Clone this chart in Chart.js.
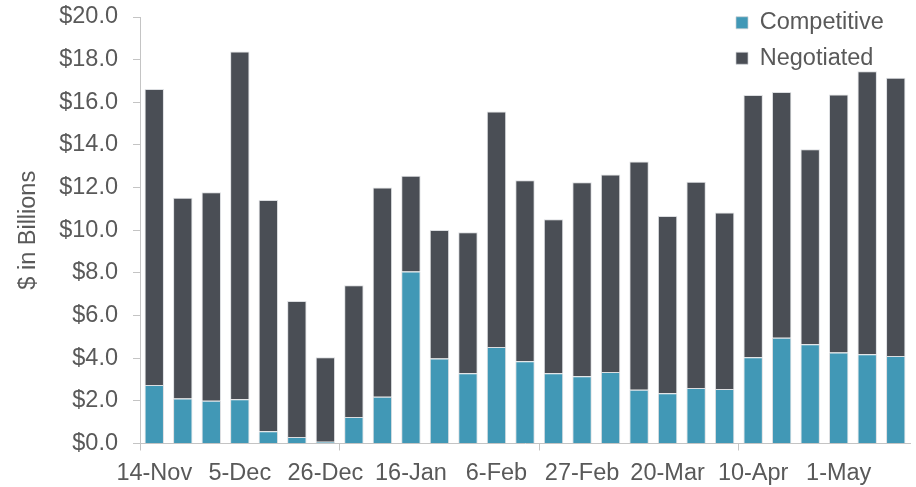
<!DOCTYPE html>
<html>
<head>
<meta charset="utf-8">
<script src="https://cdn.jsdelivr.net/npm/chart.js@4.4.0/dist/chart.umd.min.js"></script>
<style>
    html, body { margin: 0; padding: 0; background: #fff; }
    #wrap { width: 916px; height: 487px; }
</style>
</head>
<body>
<div id="wrap"><canvas id="graphic"></canvas></div>
<script>
// weekly volume, $ billions
const weeks = [
    '14-Nov', '21-Nov', '28-Nov', '5-Dec', '12-Dec', '19-Dec', '26-Dec', '2-Jan', '9-Jan',
    '16-Jan', '23-Jan', '30-Jan', '6-Feb', '13-Feb', '20-Feb', '27-Feb', '6-Mar', '13-Mar',
    '20-Mar', '27-Mar', '3-Apr', '10-Apr', '17-Apr', '24-Apr', '1-May', '8-May', '15-May'
];
const competitive = [
    2.74, 2.11, 2.00, 2.08, 0.58, 0.30, 0.08, 1.24, 2.19,
    8.06, 3.99, 3.29, 4.52, 3.86, 3.29, 3.15, 3.35, 2.52,
    2.36, 2.60, 2.56, 4.05, 4.96, 4.66, 4.27, 4.18, 4.10
];
const negotiated = [
    13.88, 9.41, 9.78, 16.30, 10.84, 6.38, 3.96, 6.18, 9.81,
    4.50, 6.02, 6.62, 11.05, 8.49, 7.23, 9.10, 9.26, 10.70,
    8.31, 9.68, 8.27, 12.29, 11.52, 9.14, 12.10, 13.28, 13.05
];
const yTicks = [0, 2, 4, 6, 8, 10, 12, 14, 16, 18, 20];

const textColor = '#595959';
const axisColor = '#c4c4c4';
Chart.defaults.font.family = '"Liberation Sans", Arial, sans-serif';
Chart.defaults.font.size = 23.5;
Chart.defaults.color = textColor;

// legend sits in the top right corner, over the plot
const legendCorner = {
    id: 'legendCorner',
    afterLayout(chart) {
        const lg = chart.legend;
        const w = lg.width;
        const h = lg.height;
        lg.left = 724;
        lg.right = lg.left + w;
        lg.top = -1;
        lg.bottom = lg.top + h;
    }
};

new Chart(document.getElementById('graphic'), {
    type: 'bar',
    data: {
        labels: weeks,
        datasets: [
            {
                label: 'Competitive',
                data: competitive,
                backgroundColor: '#4198b6',
                borderColor: 'rgba(205,208,212,0.7)',
                borderWidth: 1,
                barPercentage: 0.68,
                categoryPercentage: 1
            },
            {
                label: 'Negotiated',
                data: negotiated,
                backgroundColor: '#4a4e55',
                borderColor: 'rgba(205,208,212,0.7)',
                borderWidth: 1,
                barPercentage: 0.68,
                categoryPercentage: 1
            }
        ]
    },
    options: {
        responsive: true,
        maintainAspectRatio: false,
        animation: false,
        layout: { padding: { top: 17, right: 6, left: 0, bottom: 0 } },
        plugins: {
            tooltip: { enabled: false },
            legend: {
                position: 'chartArea',
                align: 'start',
                labels: {
                    boxWidth: 12,
                    boxHeight: 12,
                    padding: 12,
                    color: textColor,
                    font: { size: 23.5 }
                }
            }
        },
        scales: {
            x: {
                stacked: true,
                grid: {
                    drawOnChartArea: false,
                    tickLength: 7,
                    color: (ctx) => (ctx.index % 7 === 0 ? axisColor : 'transparent')
                },
                border: { color: axisColor, width: 1 },
                ticks: {
                    autoSkip: false,
                    maxRotation: 0,
                    padding: 9,
                    callback: (v, i) => (i % 3 === 0 ? weeks[i] : '')
                },
                afterFit: (s) => { s.height = 43.5; s.paddingLeft = 0; s.paddingRight = 0; }
            },
            y: {
                stacked: true,
                min: 0,
                max: 20,
                afterBuildTicks: (s) => { s.ticks = yTicks.map((v) => ({ value: v })); },
                grid: { drawOnChartArea: false, tickLength: 7, color: axisColor },
                border: { color: axisColor, width: 1 },
                ticks: {
                    padding: 15,
                    callback: (v) => '$' + Number(v).toFixed(1)
                },
                title: {
                    display: true,
                    text: '$ in Billions',
                    color: textColor,
                    font: { size: 23.5 },
                    padding: { top: 14, bottom: 0 }
                },
                afterFit: (s) => { s.width = 140; s.paddingTop = 0; s.paddingBottom = 0; }
            }
        }
    },
    plugins: [legendCorner]
});
</script>
</body>
</html>
